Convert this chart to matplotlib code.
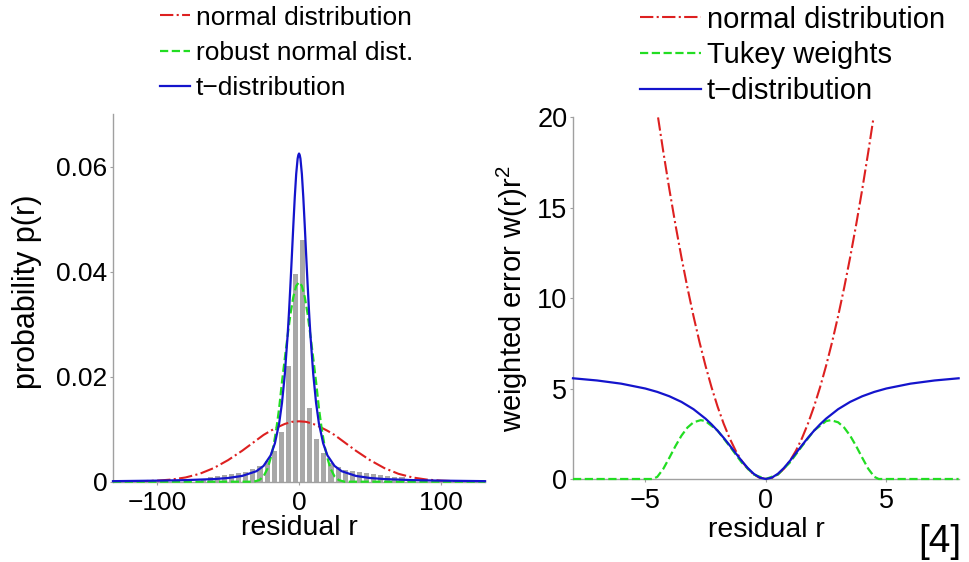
import numpy as np
import matplotlib.pyplot as plt

plt.rcParams['font.family'] = ['Liberation Sans', 'DejaVu Sans']
plt.rcParams['mathtext.fontset'] = 'custom'
plt.rcParams['mathtext.rm'] = 'Liberation Sans'

RED = "#dd2020"
GREEN = "#22dd22"
BLUE = "#1414cc"
GRAY_AX = "#a0a0a0"

# ---- left panel: residual histogram (bin centres, heights) ----
hist_r = [-67.5, -62.5, -57.5, -52.5, -47.5, -42.5, -37.5, -32.5, -27.5, -22.5,
          -17.5, -12.5, -7.5, -2.5, 2.5, 7.5, 12.5, 17.5, 22.5, 27.5,
          32.5, 37.5, 42.5, 47.5, 52.5, 57.5, 62.5, 67.5, 72.5, 77.5]
hist_p = [0.0006, 0.0009, 0.0010, 0.0012, 0.0014, 0.0016, 0.0019, 0.0024, 0.0029, 0.0040,
          0.0058, 0.0095, 0.0220, 0.0395, 0.0460, 0.0140, 0.0081, 0.0054, 0.0036, 0.0028,
          0.0023, 0.0020, 0.0018, 0.0016, 0.0014, 0.0012, 0.0011, 0.0009, 0.0008, 0.0006]

# fitted densities, right half (curves are symmetric about 0)
t_r = [0, 0.5, 1, 2, 3, 4, 5, 6, 7, 8, 10, 12, 14, 17, 20, 25, 30, 40, 50, 60, 80, 100, 131]
t_p = [0.0625, 0.0622, 0.0615, 0.0586, 0.0542, 0.0489, 0.0433, 0.0378, 0.0326, 0.0280,
       0.0205, 0.0150, 0.0111, 0.0073, 0.0050, 0.0030, 0.0020, 0.0011, 0.0007, 0.0005,
       0.0003, 0.0002, 0.0001]

rn_r = [0, 2, 4, 6, 8, 10, 12, 14, 16, 18, 20, 22, 25, 28, 32, 131]
rn_p = [0.0380, 0.0373, 0.0352, 0.0320, 0.0279, 0.0235, 0.0190, 0.0140, 0.0100, 0.0068,
        0.0045, 0.0026, 0.0010, 0.0003, 0.0, 0.0]

n_r = [0, 5, 10, 15, 20, 25, 30, 40, 50, 60, 70, 80, 90, 100, 110, 131]
n_p = [0.0115, 0.0114, 0.0110, 0.0104, 0.0097, 0.0089, 0.0079, 0.0059, 0.0041, 0.0026,
       0.0015, 0.0008, 0.0004, 0.0002, 0.0001, 0.0]

# ---- right panel: weighted error w(r) r^2, right half ----
w_r = [0, 0.25, 0.5, 0.75, 1, 1.25, 1.5, 1.75, 2, 2.25, 2.5, 3, 3.5, 4, 4.5, 5, 6, 7, 8]
t_w = [0, 0.074, 0.286, 0.607, 1.0, 1.429, 1.862, 2.279, 2.667, 3.019, 3.333, 3.857,
       4.261, 4.571, 4.812, 5.0, 5.268, 5.444, 5.565]

nd_r = [0, 0.25, 0.5, 0.75, 1, 1.25, 1.5, 1.75, 2, 2.25, 2.5, 2.75, 3, 3.25, 3.5,
        3.75, 4, 4.25, 4.47]
nd_w = [0, 0.0625, 0.25, 0.5625, 1, 1.5625, 2.25, 3.0625, 4, 5.0625, 6.25, 7.5625, 9,
        10.5625, 12.25, 14.0625, 16, 18.0625, 19.98]

tk_r = [0, 0.5, 1, 1.5, 2, 2.5, 2.7, 3, 3.25, 3.5, 3.75, 4, 4.25, 4.5, 4.685, 8]
tk_w = [0, 0.244, 0.911, 1.812, 2.675, 3.198, 3.252, 3.133, 2.843, 2.392, 1.815, 1.176,
        0.567, 0.121, 0, 0]


def mirror(r, v):
    r = np.asarray(r, dtype=float)
    v = np.asarray(v, dtype=float)
    return np.concatenate([-r[:0:-1], r]), np.concatenate([v[:0:-1], v])


def style_axes(ax, labelsize):
    for s in ("top", "right"):
        ax.spines[s].set_visible(False)
    for s in ("left", "bottom"):
        ax.spines[s].set_color(GRAY_AX)
        ax.spines[s].set_linewidth(1.0)
    ax.tick_params(direction="out", length=2.5, width=0.8, color=GRAY_AX,
                   labelsize=labelsize, labelcolor="black")
    ax.tick_params(axis="x", pad=4)
    ax.tick_params(axis="y", pad=1.5)


fig = plt.figure(figsize=(9.69, 5.62), dpi=100)

# Left panel
ax1 = fig.add_axes([0.1166, 0.1429, 0.384, 0.654])
ax1.bar(hist_r, hist_p, width=3.6, color="#a8a8a8", edgecolor="none", zorder=1)
x, y = mirror(n_r, n_p)
l1, = ax1.plot(x, y, "-.", color=RED, lw=1.5, clip_on=False, zorder=2)
x, y = mirror(rn_r, rn_p)
l2, = ax1.plot(x, y, "--", color=GREEN, lw=1.6, clip_on=False, zorder=3)
x, y = mirror(t_r, t_p)
l3, = ax1.plot(x, y, "-", color=BLUE, lw=1.6, clip_on=False, zorder=4)
ax1.set_xlim(-131, 131)
ax1.set_ylim(0, 0.07)
ax1.set_xticks([-100, 0, 100])
ax1.set_yticks([0, 0.02, 0.04, 0.06])
ax1.set_yticklabels(["0", "0.02", "0.04", "0.06"])
style_axes(ax1, 19)
ax1.set_xlabel("residual r", fontsize=20.5)
ax1.set_ylabel("probability p(r)", fontsize=22)
ax1.xaxis.set_label_coords(0.5, -0.09)
ax1.yaxis.set_label_coords(-0.19, 0.518)

fig.legend([l1, l2, l3], ["normal distribution", "robust normal dist.", "t\u2212distribution"],
           loc="upper left", bbox_to_anchor=(0.165, 0.99), frameon=False,
           fontsize=19, borderaxespad=0, borderpad=0, handlelength=1.15,
           handletextpad=0.2, labelspacing=0.43)

# Right panel
ax2 = fig.add_axes([0.5913, 0.1477, 0.398, 0.644])
x, y = mirror(nd_r, nd_w)
m1, = ax2.plot(x, y, "-.", color=RED, lw=1.5, clip_on=False, zorder=2)
x, y = mirror(tk_r, tk_w)
m2, = ax2.plot(x, y, "--", color=GREEN, lw=1.6, clip_on=False, zorder=3)
x, y = mirror(w_r, t_w)
m3, = ax2.plot(x, y, "-", color=BLUE, lw=1.6, clip_on=False, zorder=4)
ax2.set_xlim(-8, 8)
ax2.set_ylim(0, 20)
ax2.set_xticks([-5, 0, 5])
ax2.set_yticks([0, 5, 10, 15, 20])
style_axes(ax2, 19.5)
ax2.set_xlabel("residual r", fontsize=20.5)
ax2.set_ylabel("weighted error w(r)r$^2$", fontsize=21)
ax2.xaxis.set_label_coords(0.5026, -0.105)
ax2.yaxis.set_label_coords(-0.111, 0.497)

fig.legend([m1, m2, m3], ["normal distribution", "Tukey weights", "t\u2212distribution"],
           loc="upper left", bbox_to_anchor=(0.66, 0.99), frameon=False,
           fontsize=21, borderaxespad=0, borderpad=0, handlelength=2.1,
           handletextpad=0.2, labelspacing=0.27)

fig.text(940 / 969, 1 - 542 / 562, "[4]", ha="center", va="center", fontsize=28)

fig.savefig("out.png", dpi=100)
plt.close(fig)
